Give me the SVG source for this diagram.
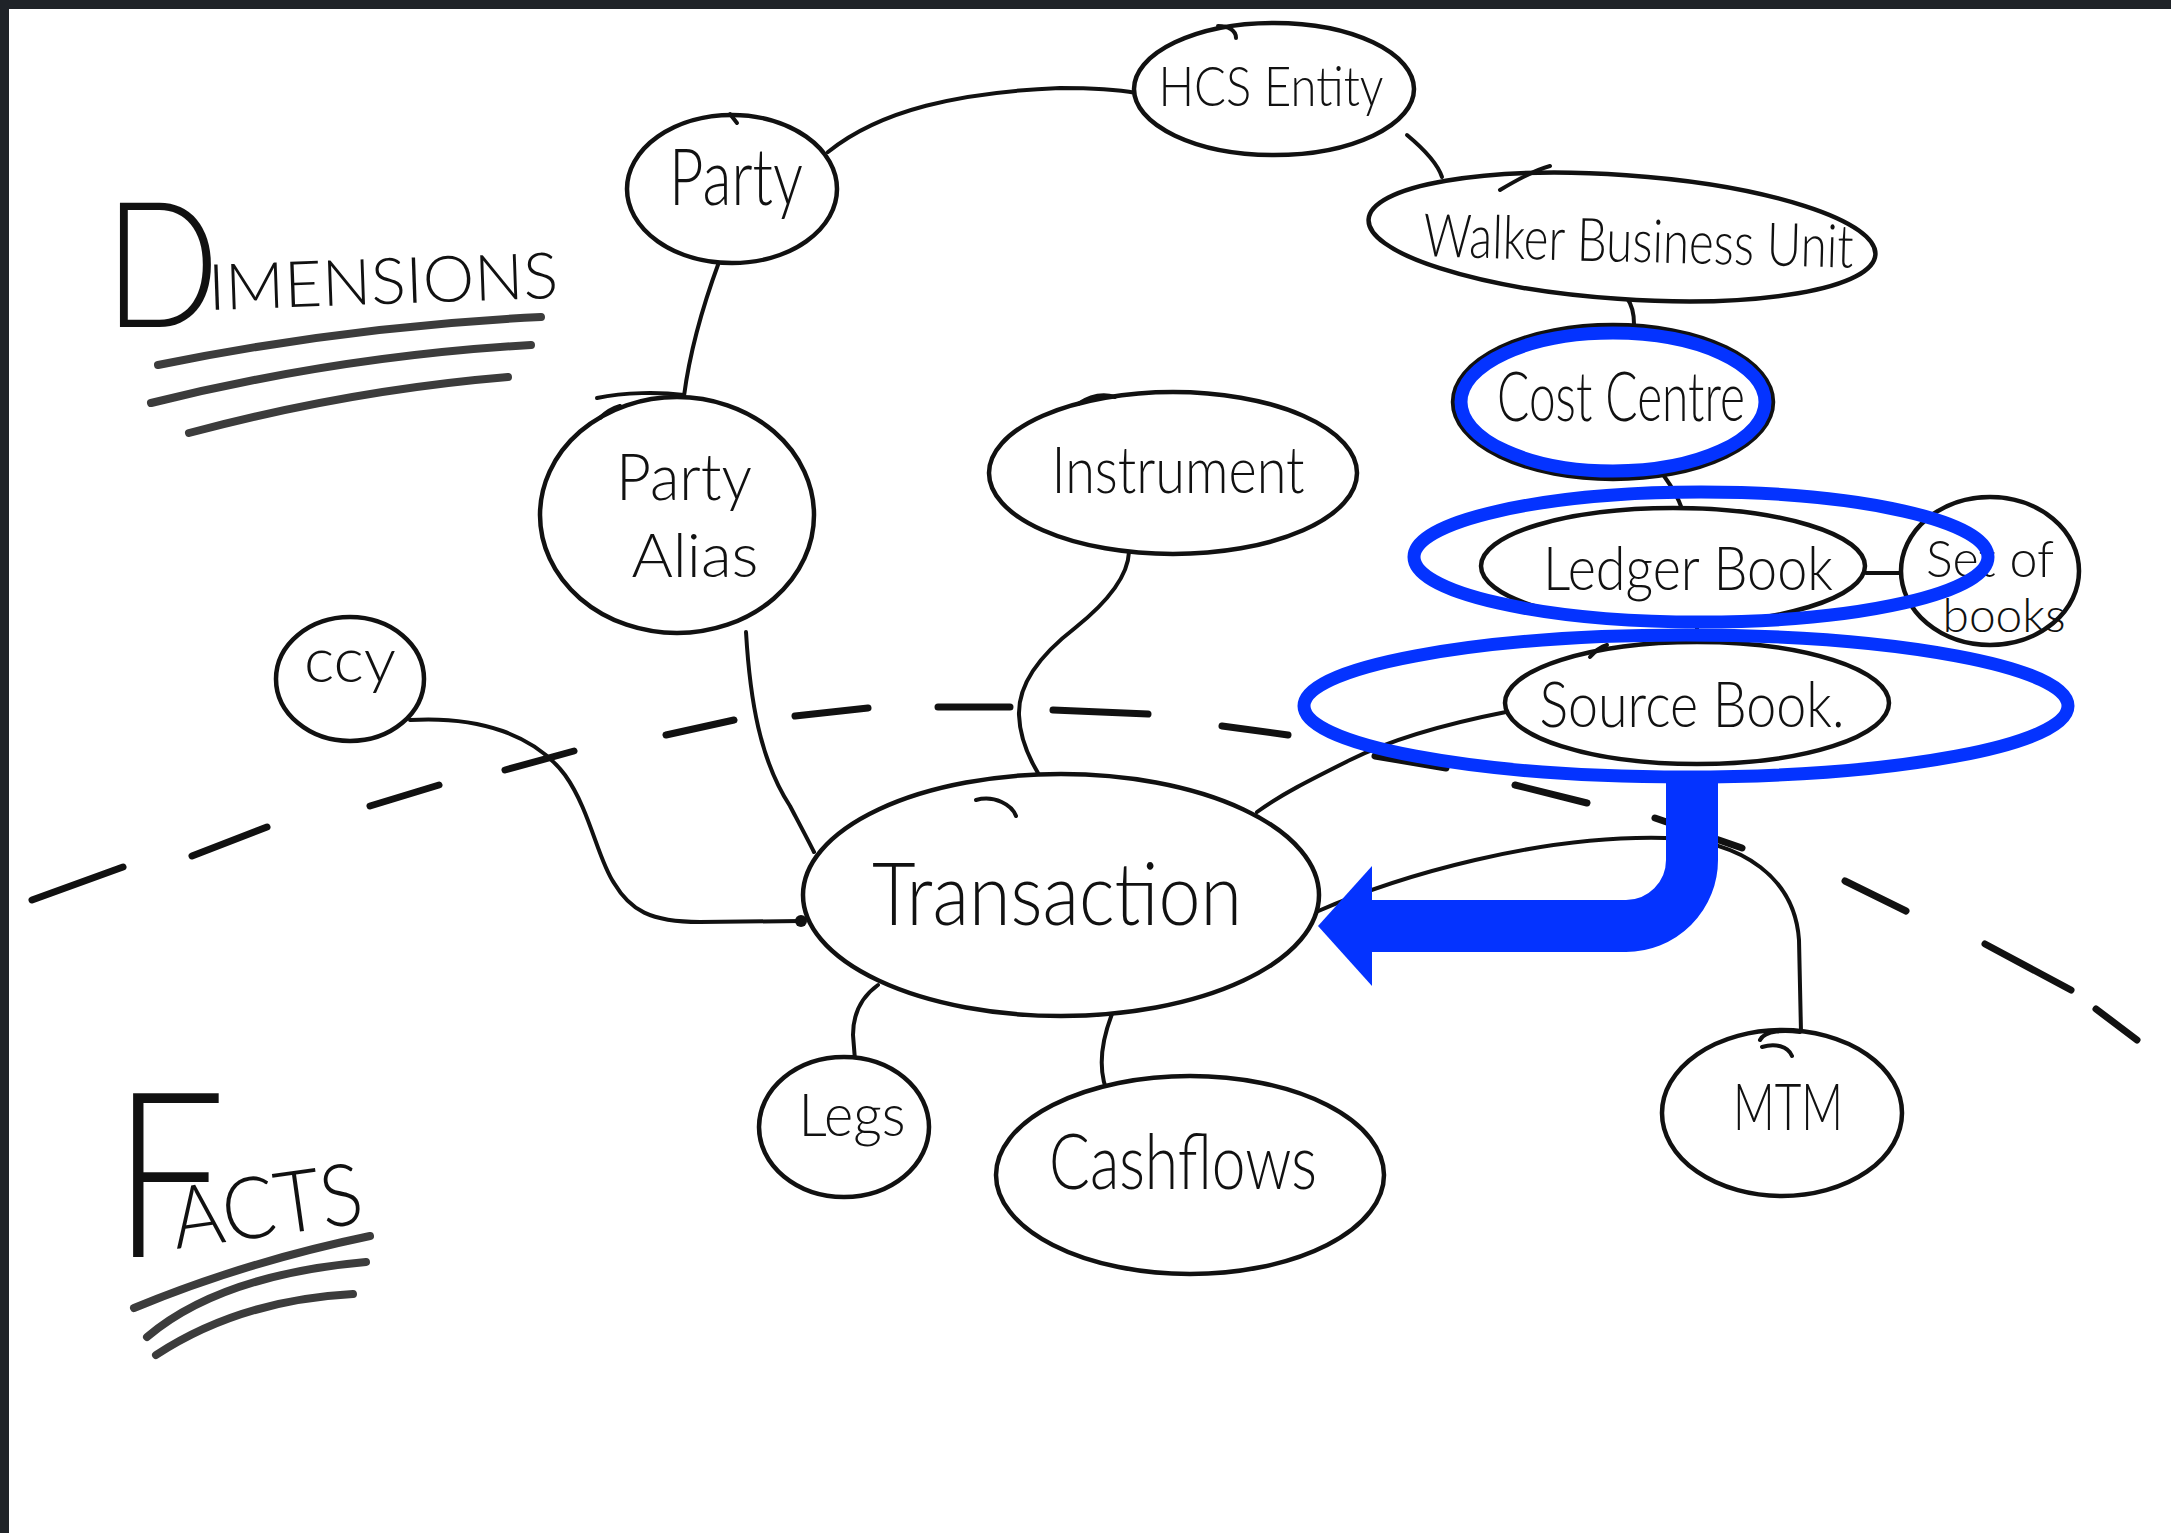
<svg xmlns="http://www.w3.org/2000/svg" width="2171" height="1533" viewBox="0 0 2171 1533">
  <style>
    .node { fill: #ffffff; stroke: #111111; stroke-width: 4.5; }
    .hook { fill: none; stroke: #111111; stroke-width: 4; stroke-linecap: round; }
    .conn { fill: none; stroke: #111111; stroke-width: 4; stroke-linecap: round; }
    .dash { fill: none; stroke: #111111; stroke-width: 7; stroke-linecap: round; }
    .under { fill: none; stroke: #3c3c3c; stroke-width: 8; stroke-linecap: round; }
    .lbl { font-family: Lato, "Liberation Sans", "DejaVu Sans", sans-serif; fill: #111111; text-anchor: middle; font-weight: 300; }
    .head { font-family: Lato, "Liberation Sans", "DejaVu Sans", sans-serif; fill: #111111; font-weight: 300; }
    .hl { fill: none; stroke: #0433ff; stroke-width: 13; }
  </style>

  <!-- paper and frame -->
  <rect x="0" y="0" width="2171" height="1533" fill="#ffffff"/>
  <rect x="0" y="0" width="2171" height="9" fill="#1f2328"/>
  <rect x="0" y="0" width="9" height="1533" fill="#1f2328"/>

  <!-- section headings -->
  <g id="heading-dimensions">
    <text class="head" x="104" y="327" font-size="176" textLength="116" lengthAdjust="spacingAndGlyphs">D</text>
    <text class="head" x="209" y="310" font-size="64" textLength="350" lengthAdjust="spacingAndGlyphs" transform="rotate(-2 209 310)">IMENSIONS</text>
    <path class="under" d="M158,365 Q350,326 541,317"/>
    <path class="under" d="M151,403 Q340,356 531,345"/>
    <path class="under" d="M189,433 Q350,390 508,377"/>
  </g>
  <g id="heading-facts">
    <text class="head" x="112" y="1257" font-size="232" textLength="114" lengthAdjust="spacingAndGlyphs">F</text>
    <text class="head" x="176" y="1249" font-size="86" textLength="192" lengthAdjust="spacingAndGlyphs" transform="rotate(-8 176 1249)">ACTS</text>
    <path class="under" d="M134,1308 Q245,1262 370,1236"/>
    <path class="under" d="M147,1337 Q220,1275 366,1262"/>
    <path class="under" d="M156,1355 Q240,1300 353,1294"/>
  </g>

  <!-- boundary between dimensions and facts -->
  <path id="boundary" class="dash" d="M32,900 L123,867 M192,856 L267,827 M370,806 L439,785 M505,770 L574,751 M666,735 L734,720 M795,716 L868,708 M938,707 L1010,707 M1053,710 L1148,714 M1222,726 L1288,735 M1375,756 L1446,768 M1515,785 L1587,803 M1655,818 L1742,848 M1845,881 L1906,911 M1985,944 L2071,990 M2096,1009 L2137,1040"/>

  <!-- connectors -->
  <g id="connectors">
    <path class="conn" d="M828,152 C880,110 960,92 1060,88 C1100,88 1120,90 1136,93"/>
    <path class="conn" d="M1407,135 C1425,150 1438,165 1442,177"/>
    <path class="conn" d="M1627,298 C1632,305 1634,315 1634,324"/>
    <path class="conn" d="M1664,476 C1672,487 1678,497 1682,509"/>
    <path class="conn" d="M1866,573 L1903,573"/>
    <path class="conn" d="M1697,622 L1697,645"/>
    <path class="conn" d="M719,262 C705,300 690,350 684,396"/>
    <path class="conn" d="M746,632 C750,700 760,760 790,806 C800,825 808,840 814,852"/>
    <path class="conn" d="M1129,552 C1128,575 1110,600 1075,628 C1040,655 1018,685 1019,715 C1020,745 1035,770 1047,787"/>
    <path class="conn" d="M410,720 C480,716 535,735 565,775 C590,810 598,860 614,883 C630,910 650,922 700,922 L801,921"/>
    <circle cx="801" cy="921" r="6" fill="#111111"/>
    <path class="conn" d="M1506,712 C1440,725 1390,740 1350,760 C1310,780 1280,795 1257,812"/>
    <path class="conn" d="M1316,912 C1400,875 1540,835 1665,838 C1745,840 1795,880 1799,940 L1801,1032"/>
    <path class="conn" d="M878,985 C860,998 853,1015 853,1035 L855,1060"/>
    <path class="conn" d="M1112,1014 C1100,1045 1098,1075 1110,1098"/>
  </g>

  <!-- nodes -->
  <g id="node-hcs-entity">
    <ellipse class="node" cx="1274" cy="89" rx="140" ry="66"/>
    <path class="hook" d="M1218,26 C1228,26 1236,30 1236,38"/>
    <text class="lbl" x="1271" y="106" font-size="56" textLength="225" lengthAdjust="spacingAndGlyphs">HCS Entity</text>
  </g>
  <g id="node-party">
    <ellipse class="node" cx="732" cy="189" rx="105" ry="74"/>
    <path class="hook" d="M730,114 L737,123"/>
    <text class="lbl" x="736" y="205" font-size="78" textLength="134" lengthAdjust="spacingAndGlyphs">Party</text>
  </g>
  <g id="node-walker-business-unit">
    <ellipse class="node" cx="1622" cy="237" rx="254" ry="62" transform="rotate(4 1622 237)"/>
    <path class="hook" d="M1500,190 C1520,178 1535,170 1550,166"/>
    <text class="lbl" x="1638" y="262" font-size="60" textLength="430" lengthAdjust="spacingAndGlyphs" transform="rotate(1.5 1638 262)">Walker Business Unit</text>
  </g>
  <g id="node-cost-centre">
    <ellipse class="node" cx="1613" cy="402" rx="160" ry="77"/>
    <text class="lbl" x="1621" y="421" font-size="68" textLength="248" lengthAdjust="spacingAndGlyphs">Cost Centre</text>
  </g>
  <g id="node-party-alias">
    <ellipse class="node" cx="677" cy="515" rx="137" ry="118"/>
    <path class="hook" d="M597,398 C625,392 660,392 684,395 M600,418 C606,412 613,408 620,406"/>
    <text class="lbl" x="684" y="500" font-size="66" textLength="136" lengthAdjust="spacingAndGlyphs">Party</text>
    <text class="lbl" x="695" y="577" font-size="62" textLength="127" lengthAdjust="spacingAndGlyphs">Alias</text>
  </g>
  <g id="node-instrument">
    <ellipse class="node" cx="1173" cy="473" rx="184" ry="81"/>
    <path class="hook" d="M1078,404 C1090,396 1102,393 1115,397"/>
    <text class="lbl" x="1178" y="493" font-size="66" textLength="253" lengthAdjust="spacingAndGlyphs">Instrument</text>
  </g>
  <g id="node-set-of-books">
    <ellipse class="node" cx="1990" cy="571" rx="89" ry="74"/>
    <text class="lbl" x="1990" y="577" font-size="52" textLength="128" lengthAdjust="spacingAndGlyphs">Set of</text>
    <text class="lbl" x="2004" y="632" font-size="48" textLength="123" lengthAdjust="spacingAndGlyphs">books</text>
  </g>
  <g id="node-ledger-book">
    <ellipse class="node" cx="1673" cy="566" rx="192" ry="58"/>
    <text class="lbl" x="1688" y="590" font-size="62" textLength="290" lengthAdjust="spacingAndGlyphs">Ledger Book</text>
  </g>
  <g id="node-source-book">
    <ellipse class="node" cx="1697" cy="703" rx="192" ry="61"/>
    <path class="hook" d="M1590,657 C1596,650 1600,647 1607,645"/>
    <text class="lbl" x="1692" y="727" font-size="64" textLength="305" lengthAdjust="spacingAndGlyphs">Source Book.</text>
  </g>
  <g id="node-ccy">
    <ellipse class="node" cx="350" cy="679" rx="74" ry="62"/>
    <text class="lbl" x="350" y="682" font-size="64" textLength="92" lengthAdjust="spacingAndGlyphs">ccy</text>
  </g>
  <g id="node-transaction">
    <ellipse class="node" cx="1061" cy="895" rx="258" ry="121"/>
    <path class="hook" d="M976,800 C995,795 1012,805 1016,816"/>
    <text class="lbl" x="1057" y="925" font-size="86" textLength="370" lengthAdjust="spacingAndGlyphs">Transaction</text>
  </g>
  <g id="node-legs">
    <ellipse class="node" cx="844" cy="1127" rx="85" ry="70"/>
    <text class="lbl" x="852" y="1136" font-size="60" textLength="107" lengthAdjust="spacingAndGlyphs">Legs</text>
  </g>
  <g id="node-cashflows">
    <ellipse class="node" cx="1190" cy="1175" rx="194" ry="99"/>
    <text class="lbl" x="1183" y="1189" font-size="76" textLength="268" lengthAdjust="spacingAndGlyphs">Cashflows</text>
  </g>
  <g id="node-mtm">
    <ellipse class="node" cx="1782" cy="1113" rx="120" ry="83"/>
    <path class="hook" d="M1760,1040 C1765,1030 1785,1030 1800,1032 M1762,1047 C1775,1043 1788,1046 1792,1056"/>
    <text class="lbl" x="1788" y="1130" font-size="66" textLength="110" lengthAdjust="spacingAndGlyphs">MTM</text>
  </g>

  <!-- blue highlights -->
  <g id="highlights">
    <ellipse class="hl" cx="1613" cy="402" rx="152" ry="69"/>
    <ellipse class="hl" cx="1701" cy="557" rx="287" ry="65"/>
    <ellipse class="hl" cx="1686" cy="706" rx="382" ry="71"/>
  </g>
  <g id="highlight-arrow">
    <path d="M1692,772 L1692,860 A66,66 0 0 1 1626,926 L1368,926" fill="none" stroke="#0433ff" stroke-width="52"/>
    <polygon points="1318,926 1372,866 1372,986" fill="#0433ff"/>
  </g>
</svg>
